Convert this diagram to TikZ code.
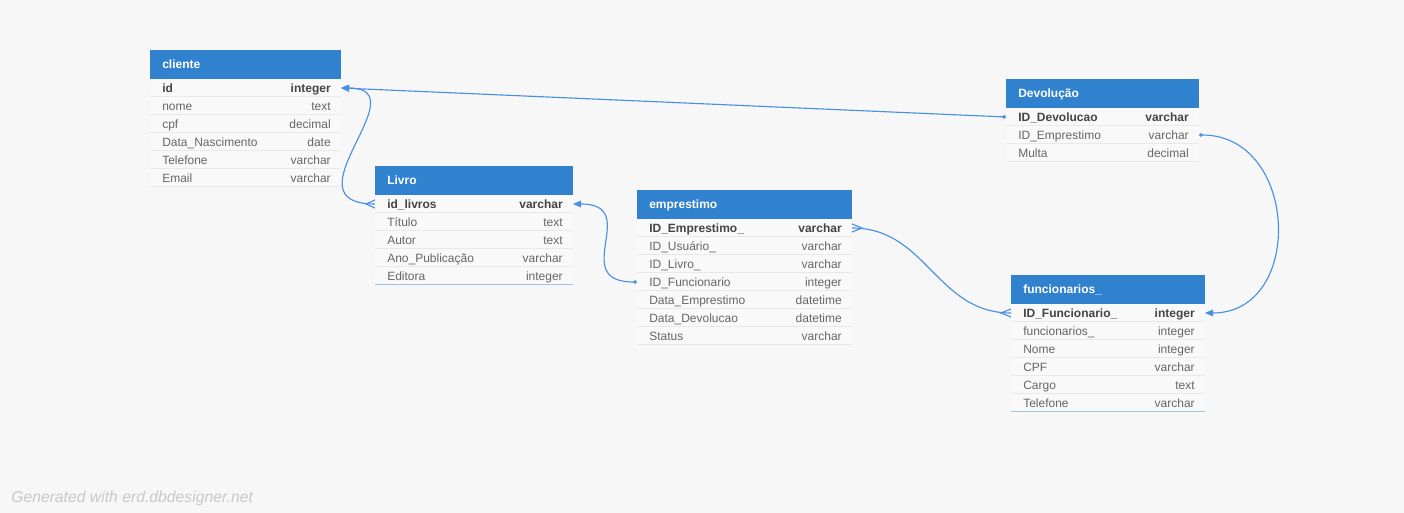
\documentclass[tikz,border=0pt]{standalone}
\usepackage{fontspec}
\setmainfont{Liberation Sans}
\usetikzlibrary{arrows.meta,positioning,calc}
\definecolor{canvas}{HTML}{F7F7F7}
\definecolor{hdrblue}{HTML}{3182CE}
\definecolor{linkblue}{HTML}{4A90E2}
\definecolor{rowfill}{HTML}{F9F9F9}
\definecolor{rowsep}{HTML}{E9E9E9}
\definecolor{endsep}{HTML}{9EC3EA}
\definecolor{pktext}{HTML}{444444}
\definecolor{fldtext}{HTML}{666666}
\definecolor{wmark}{HTML}{C8C8C8}
\def\px{0.75pt}
\tikzset{
  hdr/.style   ={fill=hdrblue, anchor=north west, inner sep=0pt, outer sep=0pt,
                 minimum height=29*\px},
  ttl/.style   ={font=\bfseries\fontsize{9}{11}\selectfont, text=white, anchor=west,
                 inner sep=0pt, text height=6.5pt, text depth=0pt},
  rowbox/.style={fill=rowfill, anchor=north west, inner sep=0pt, outer sep=0pt,
                 minimum height=18*\px},
  fcell/.style ={font=\fontsize{9}{11}\selectfont, text=fldtext, inner sep=0pt,
                 text height=6.5pt, text depth=0pt},
  pkcell/.style={fcell, font=\bfseries\fontsize{9}{11}\selectfont, text=pktext},
  sep/.style   ={draw=rowsep, line width=0.75pt},
  lnk/.style   ={draw=linkblue, line width=0.85pt},
  wm/.style    ={font=\itshape\fontsize{11.8}{14}\selectfont, text=wmark, inner sep=0pt},
  pkarr/.tip   ={Triangle[length=6pt,width=5pt]},
  fkdot/.tip   ={Circle[length=2.8pt]},
}

\begin{document}
\begin{tikzpicture}[x=0.75pt,y=-0.75pt]
  % canvas, one unit is one pixel, y grows downwards
  \useasboundingbox (0,0) rectangle (1404,513);
  \fill[canvas] (0,0) rectangle (1404,513);

  % ---------------- cliente --------------------------------------------------
  \def\tx{150} \def\ty{50} \def\tw{191}
  \node[hdr, minimum width=\tw*\px] (cli) at (\tx,\ty) {};
  \node[ttl] (cli-ttl) at ([xshift=12*\px]cli.west) {cliente};
  \foreach \st/\f/\t [count=\i] in {pkcell/id/integer, fcell/nome/text, fcell/cpf/decimal,
      fcell/Data\_Nascimento/date, fcell/Telefone/varchar, fcell/Email/varchar} {
    \node[rowbox, minimum width=\tw*\px] (cli-\i) at (\tx,{\ty+29+18*(\i-1)}) {};
    \draw[sep] (cli-\i.south west) -- (cli-\i.south east);
    \node[\st, anchor=west] (cli-\i-f) at ([xshift=12*\px]cli-\i.west) {\f};
    \node[\st, anchor=east] (cli-\i-t) at ([xshift=-10*\px]cli-\i.east) {\t};
  }

  % ---------------- Livro ----------------------------------------------------
  \def\tx{375} \def\ty{166} \def\tw{198}
  \node[hdr, minimum width=\tw*\px] (liv) at (\tx,\ty) {};
  \node[ttl] (liv-ttl) at ([xshift=12*\px]liv.west) {Livro};
  \foreach \st/\f/\t [count=\i] in {pkcell/id\_livros/varchar, fcell/Título/text,
      fcell/Autor/text, fcell/Ano\_Publicação/varchar, fcell/Editora/integer} {
    \node[rowbox, minimum width=\tw*\px] (liv-\i) at (\tx,{\ty+29+18*(\i-1)}) {};
    \draw[sep] (liv-\i.south west) -- (liv-\i.south east);
    \node[\st, anchor=west] (liv-\i-f) at ([xshift=12*\px]liv-\i.west) {\f};
    \node[\st, anchor=east] (liv-\i-t) at ([xshift=-10*\px]liv-\i.east) {\t};
  }
  \draw[sep, draw=endsep] (liv-5.south west) -- (liv-5.south east);

  % ---------------- emprestimo -----------------------------------------------
  \def\tx{637} \def\ty{190} \def\tw{215}
  \node[hdr, minimum width=\tw*\px] (emp) at (\tx,\ty) {};
  \node[ttl] (emp-ttl) at ([xshift=12*\px]emp.west) {emprestimo};
  \foreach \st/\f/\t [count=\i] in {pkcell/ID\_Emprestimo\_/varchar,
      fcell/ID\_Usuário\_/varchar, fcell/ID\_Livro\_/varchar,
      fcell/ID\_Funcionario/integer, fcell/Data\_Emprestimo/datetime,
      fcell/Data\_Devolucao/datetime, fcell/Status/varchar} {
    \node[rowbox, minimum width=\tw*\px] (emp-\i) at (\tx,{\ty+29+18*(\i-1)}) {};
    \draw[sep] (emp-\i.south west) -- (emp-\i.south east);
    \node[\st, anchor=west] (emp-\i-f) at ([xshift=12*\px]emp-\i.west) {\f};
    \node[\st, anchor=east] (emp-\i-t) at ([xshift=-10*\px]emp-\i.east) {\t};
  }

  % ---------------- Devolução ------------------------------------------------
  \def\tx{1006} \def\ty{79} \def\tw{193}
  \node[hdr, minimum width=\tw*\px] (dev) at (\tx,\ty) {};
  \node[ttl] (dev-ttl) at ([xshift=12*\px]dev.west) {Devolução};
  \foreach \st/\f/\t [count=\i] in {pkcell/ID\_Devolucao/varchar,
      fcell/ID\_Emprestimo/varchar, fcell/Multa/decimal} {
    \node[rowbox, minimum width=\tw*\px] (dev-\i) at (\tx,{\ty+29+18*(\i-1)}) {};
    \draw[sep] (dev-\i.south west) -- (dev-\i.south east);
    \node[\st, anchor=west] (dev-\i-f) at ([xshift=12*\px]dev-\i.west) {\f};
    \node[\st, anchor=east] (dev-\i-t) at ([xshift=-10*\px]dev-\i.east) {\t};
  }

  % ---------------- funcionarios_ --------------------------------------------
  \def\tx{1011} \def\ty{275} \def\tw{194}
  \node[hdr, minimum width=\tw*\px] (fun) at (\tx,\ty) {};
  \node[ttl] (fun-ttl) at ([xshift=12*\px]fun.west) {funcionarios\_};
  \foreach \st/\f/\t [count=\i] in {pkcell/ID\_Funcionario\_/integer,
      fcell/funcionarios\_/integer, fcell/Nome/integer, fcell/CPF/varchar,
      fcell/Cargo/text, fcell/Telefone/varchar} {
    \node[rowbox, minimum width=\tw*\px] (fun-\i) at (\tx,{\ty+29+18*(\i-1)}) {};
    \draw[sep] (fun-\i.south west) -- (fun-\i.south east);
    \node[\st, anchor=west] (fun-\i-f) at ([xshift=12*\px]fun-\i.west) {\f};
    \node[\st, anchor=east] (fun-\i-t) at ([xshift=-10*\px]fun-\i.east) {\t};
  }
  \draw[sep, draw=endsep] (fun-6.south west) -- (fun-6.south east);

  % ---------------- relations ------------------------------------------------
  \draw[lnk, pkarr-fkdot] (cli-1.east) -- (dev-1.west);
  \draw[lnk, pkarr-] (cli-1.east) .. controls +(80,0) and +(-92,0) .. (liv-1.west);
  \draw[lnk, pkarr-fkdot] (liv-1.east) .. controls +(70,0) and +(-70,0) .. (emp-4.west);
  \draw[lnk] (emp-1.east) .. controls +(75,0) and +(-75,0) .. (fun-1.west);
  \draw[lnk, fkdot-pkarr] (dev-2.east) .. controls +(100,0) and +(100,0) .. (fun-1.east);
  % crow's feet on the many side
  \draw[lnk] ([yshift=4*\px]liv-1.west) -- ([xshift=-9*\px]liv-1.west)
        -- ([yshift=-4*\px]liv-1.west);
  \draw[lnk] ([yshift=4*\px]emp-1.east) -- ([xshift=10*\px]emp-1.east)
        -- ([yshift=-4*\px]emp-1.east);
  \draw[lnk] ([yshift=4*\px]fun-1.west) -- ([xshift=-10*\px]fun-1.west)
        -- ([yshift=-4*\px]fun-1.west);

  \node[wm, anchor=base west] (credit) at (11,503) {Generated with erd.dbdesigner.net};
\end{tikzpicture}
\end{document}
